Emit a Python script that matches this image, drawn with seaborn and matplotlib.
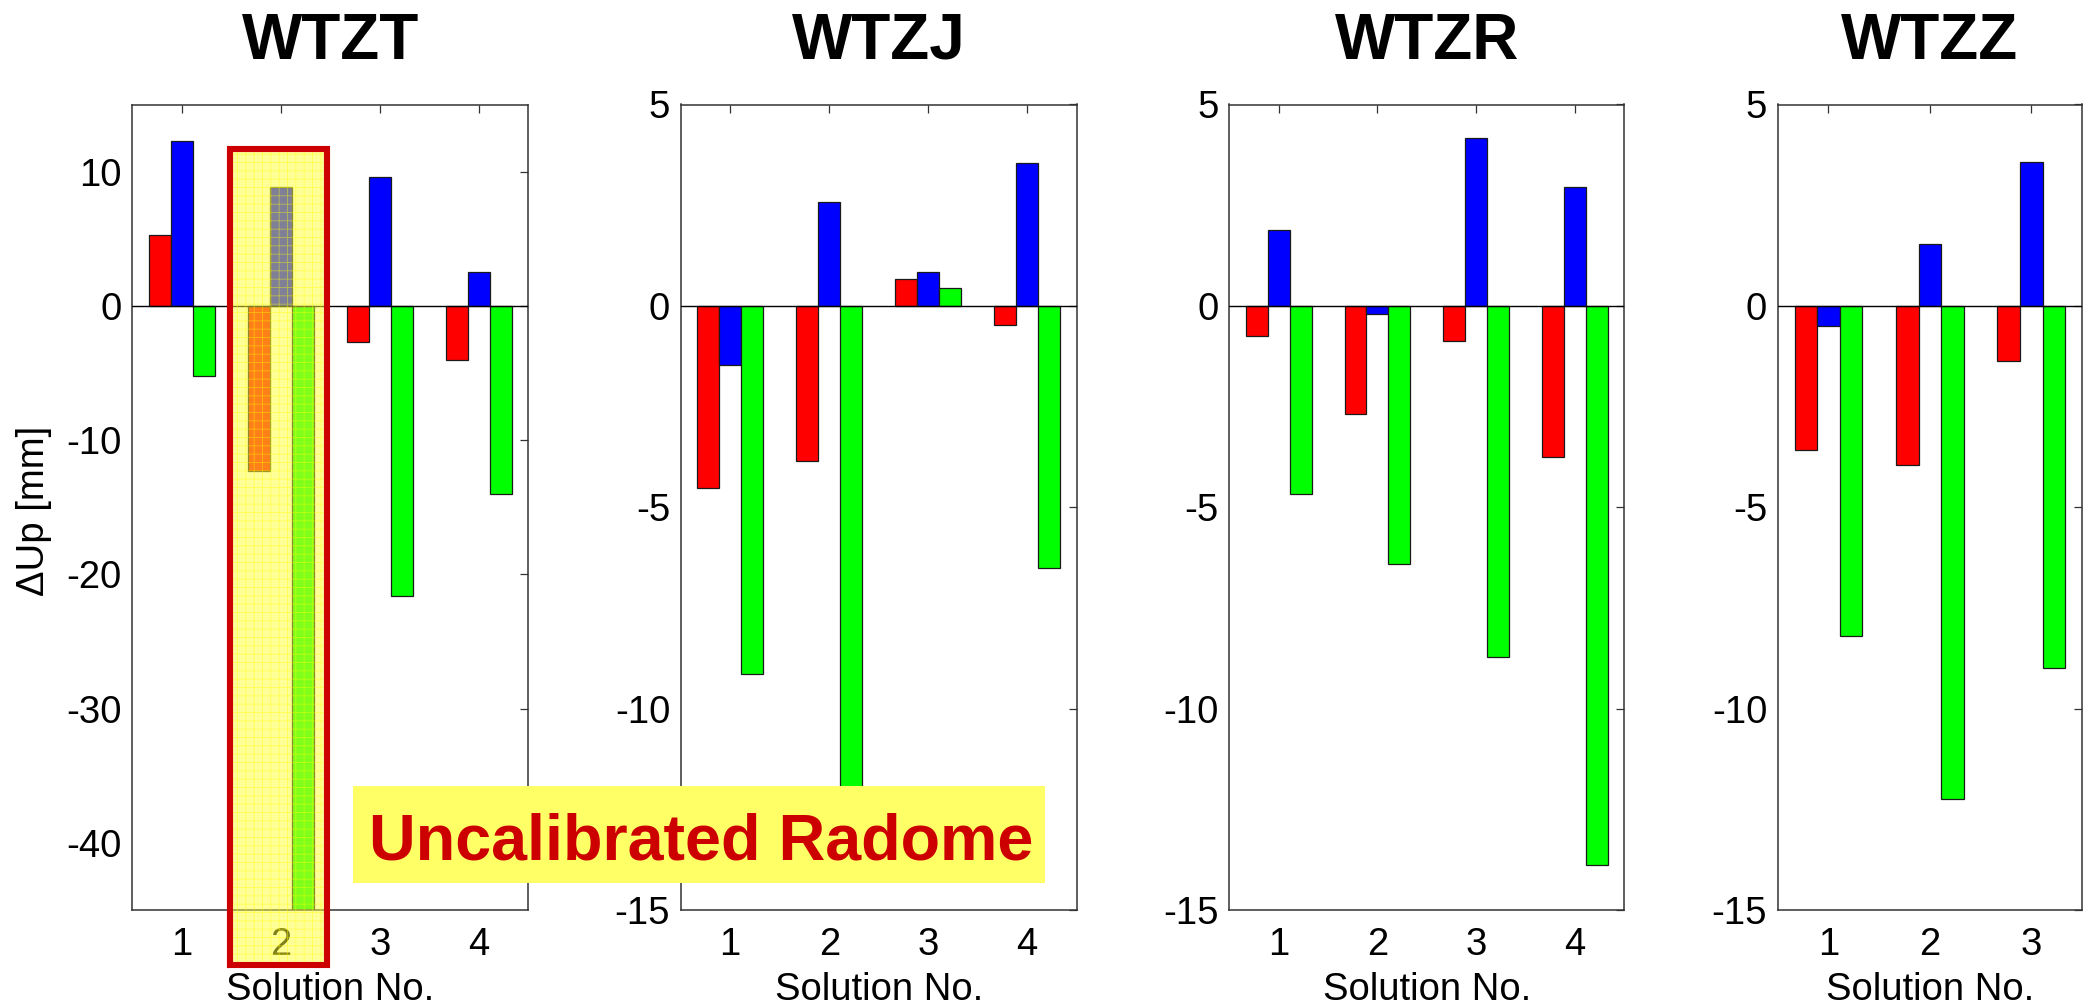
import numpy as np
import pandas as pd
import matplotlib
matplotlib.use("Agg")
import matplotlib.pyplot as plt
import seaborn as sns
from matplotlib.patches import Rectangle

# ---------------- data ----------------
stations = ["WTZT", "WTZJ", "WTZR", "WTZZ"]
series_names = ["Series A", "Series B", "Series C"]
series_colors = ["#FF0000", "#0000FF", "#00FF00"]

wtzt_solutions = ["1", "2", "3", "4"]
wtzt_red = [5.3, -12.3, -2.7, -4.0]
wtzt_blue = [12.25, 8.85, 9.6, 2.55]
wtzt_green = [-5.25, -45.0, -21.6, -14.0]

wtzj_solutions = ["1", "2", "3", "4"]
wtzj_red = [-4.53, -3.84, 0.67, -0.47]
wtzj_blue = [-1.48, 2.58, 0.85, 3.54]
wtzj_green = [-9.15, -13.0, 0.44, -6.5]

wtzr_solutions = ["1", "2", "3", "4"]
wtzr_red = [-0.76, -2.68, -0.87, -3.74]
wtzr_blue = [1.88, -0.19, 4.18, 2.95]
wtzr_green = [-4.68, -6.41, -8.71, -13.88]

wtzz_solutions = ["1", "2", "3"]
wtzz_red = [-3.58, -3.96, -1.38]
wtzz_blue = [-0.51, 1.54, 3.56]
wtzz_green = [-8.2, -12.25, -8.98]

y_limits = [(-45, 15), (-15, 5), (-15, 5), (-15, 5)]
y_ticks = [[-40, -30, -20, -10, 0, 10],
           [-15, -10, -5, 0, 5],
           [-15, -10, -5, 0, 5],
           [-15, -10, -5, 0, 5]]

highlight_station = "WTZT"
highlight_solution = "2"
annotation_text = "Uncalibrated Radome"

# ---------------- style ----------------
sns.set_theme(style="white")
plt.rcParams["font.family"] = ["Liberation Sans", "DejaVu Sans"]
plt.rcParams["axes.unicode_minus"] = False
plt.rcParams["text.color"] = "black"
plt.rcParams["axes.labelcolor"] = "black"
plt.rcParams["hatch.linewidth"] = 0.6

W, H = 2089, 1006
fig = plt.figure(figsize=(W / 100, H / 100), dpi=100)

# axes boxes in pixels: left, right ; top/bottom common
ax_px = [(132.3, 528.3), (680.7, 1076.7), (1229.3, 1624.3), (1777.7, 2082.0)]
top_px, bot_px = 104.5, 910.0

panels = [
    (wtzt_solutions, wtzt_red, wtzt_blue, wtzt_green),
    (wtzj_solutions, wtzj_red, wtzj_blue, wtzj_green),
    (wtzr_solutions, wtzr_red, wtzr_blue, wtzr_green),
    (wtzz_solutions, wtzz_red, wtzz_blue, wtzz_green),
]

spine_col = "#333333"
axes = []
for i, (station, (sols, red, blue, green)) in enumerate(zip(stations, panels)):
    l, r = ax_px[i]
    ax = fig.add_axes([l / W, (H - bot_px) / H, (r - l) / W, (bot_px - top_px) / H])
    axes.append(ax)
    df = pd.DataFrame({
        "Solution": list(sols) * 3,
        "Series": np.repeat(series_names, len(sols)),
        "dUp": list(red) + list(blue) + list(green),
    })
    sns.barplot(data=df, x="Solution", y="dUp", hue="Series", order=sols,
                hue_order=series_names, palette=series_colors, width=2 / 3,
                saturation=1, edgecolor="#1a1a1a", linewidth=0.9,
                errorbar=None, legend=False, ax=ax)
    ax.axhline(0, color="black", lw=1.0, zorder=3)
    ax.set_xlim(-0.5, len(sols) - 0.5)
    ax.set_ylim(*y_limits[i])
    ax.set_yticks(y_ticks[i])
    ax.set_yticklabels([str(t) for t in y_ticks[i]])
    ax.tick_params(axis="both", direction="in", top=True, right=True,
                   length=5.8, width=0.9, color=spine_col,
                   labelsize=27.5, labelcolor="black")
    ax.tick_params(axis="x", pad=12)
    ax.tick_params(axis="y", pad=7.6)
    for s in ax.spines.values():
        s.set_color(spine_col)
        s.set_linewidth(1.1)
        s.set_visible(True)
    ax.set_title(station, fontsize=46, fontweight="bold", pad=33, color="black")
    ax.set_xlabel("Solution No.", fontsize=27.5, color="black")
    ax.xaxis.set_label_coords(0.5, -0.077)
    if i == 0:
        ax.set_ylabel("\u0394Up [mm]", fontsize=27.5, color="black")
        ax.yaxis.label.set_va("center")
        ax.yaxis.set_label_coords(-0.248, 0.495)
    else:
        ax.set_ylabel("")

# ---------------- highlight box on WTZT solution 2 ----------------
ax0 = axes[stations.index(highlight_station)]
xc = wtzt_solutions.index(highlight_solution)
hx0, hx1 = xc - 0.517, xc + 0.465
hy0, hy1 = -49.1, 11.65
fill = Rectangle((hx0, hy0), hx1 - hx0, hy1 - hy0, facecolor=(1, 1, 0.2, 0.5),
                 edgecolor=(1, 1, 0.0, 0.45), linewidth=0, hatch="++",
                 clip_on=False, zorder=6)
ax0.add_patch(fill)
border = Rectangle((hx0, hy0), hx1 - hx0, hy1 - hy0, facecolor="none",
                   edgecolor="#CC0000", linewidth=4.4, clip_on=False, zorder=7)
ax0.add_patch(border)

# ---------------- "Uncalibrated Radome" label ----------------
bx0, bx1, by0, by1 = 352.7, 1044.8, 786.0, 882.7
fig.patches.append(Rectangle((bx0 / W, (H - by1) / H), (bx1 - bx0) / W, (by1 - by0) / H,
                             transform=fig.transFigure, facecolor="#FFFF66",
                             edgecolor="none", zorder=1))
fig.text(701 / W, (H - 859.3) / H, annotation_text, ha="center", va="baseline",
         fontsize=46.5, fontweight="bold", color="#CC0000", zorder=3)

fig.savefig("out.png", dpi=100)
